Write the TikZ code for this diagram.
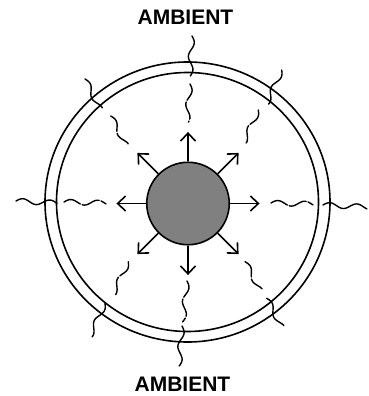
\documentclass[tikz,border=0pt]{standalone}
\usepackage{fontspec}
\setmainfont{Liberation Sans}
\usetikzlibrary{arrows.meta}
\definecolor{discgray}{RGB}{128,128,128}
\tikzset{
  ring/.style={line width=1.6pt},
  wave/.style={line width=1.4pt, line cap=round},
  innerwave/.style={dash pattern=on 18pt off 2pt},
  arr/.style={line width=1.6pt, -{Straight Barb[length=8pt,width=15pt]}},
  lbl/.style={font=\bfseries\fontsize{21}{21}\selectfont, inner sep=0pt}
}
\newcommand\wv[5][]{%
  \pgfmathsetmacro\wvdx{#4-#2}\pgfmathsetmacro\wvdy{#5-#3}%
  \pgfmathsetmacro\wvang{atan2(-\wvdy,\wvdx)}%
  \pgfmathsetmacro\wvlen{veclen(\wvdx,\wvdy)}%
  \begin{scope}[shift={(#2,#3)},rotate=\wvang]
    \draw[wave,#1] plot[domain=0:\wvlen,samples=40,smooth] ({\x*1pt},{2.6*sin(\x*360/27)*1pt});
  \end{scope}}
\begin{document}
\begin{tikzpicture}[x=1pt,y=-1pt]
\useasboundingbox (0,0) rectangle (369,396);
% rings
\draw[ring] (187.5,202) ellipse [x radius=142.5pt, y radius=140pt];
\draw[ring] (187.5,202) ellipse [x radius=131pt, y radius=129.5pt];
% wavy lines: outer (crossing ring) and inner (dashed)
\wv{192}{36}{190}{76}
\wv[innerwave]{190}{84}{187}{122}
\wv[innerwave]{187}{281}{183}{322}
\wv{182}{326}{179}{366}
\wv{16}{201}{57}{203}
\wv[innerwave]{64}{202}{106}{203}
\wv[innerwave]{271}{203}{313}{204}
\wv{323}{205}{367}{207}
\wv{85}{79}{100}{109}
\wv[innerwave]{110.7}{116}{126}{145}
\wv{281.7}{70}{266.7}{103.3}
\wv[innerwave]{258.3}{110}{243.3}{143.3}
\wv[innerwave]{128.3}{261.7}{112.7}{295}
\wv{105}{303.3}{90}{336}
\wv[innerwave]{245}{261.7}{260}{290}
\wv{266.7}{298.3}{281.7}{326.7}
% central disc and arrows
\node[circle, draw, fill=discgray, line width=1.6pt, minimum size=82.5pt, inner sep=0pt] (disc) at (188,203.5) {};
\foreach \a in {0,45,...,315}
  \draw[arr] (disc.\a) -- ++(\a:29.5pt);
% labels
\node[lbl] (top) at (185.5,17.5) {AMBIENT};
\node[lbl] (bottom) at (182.5,384.5) {AMBIENT};
\end{tikzpicture}
\end{document}
